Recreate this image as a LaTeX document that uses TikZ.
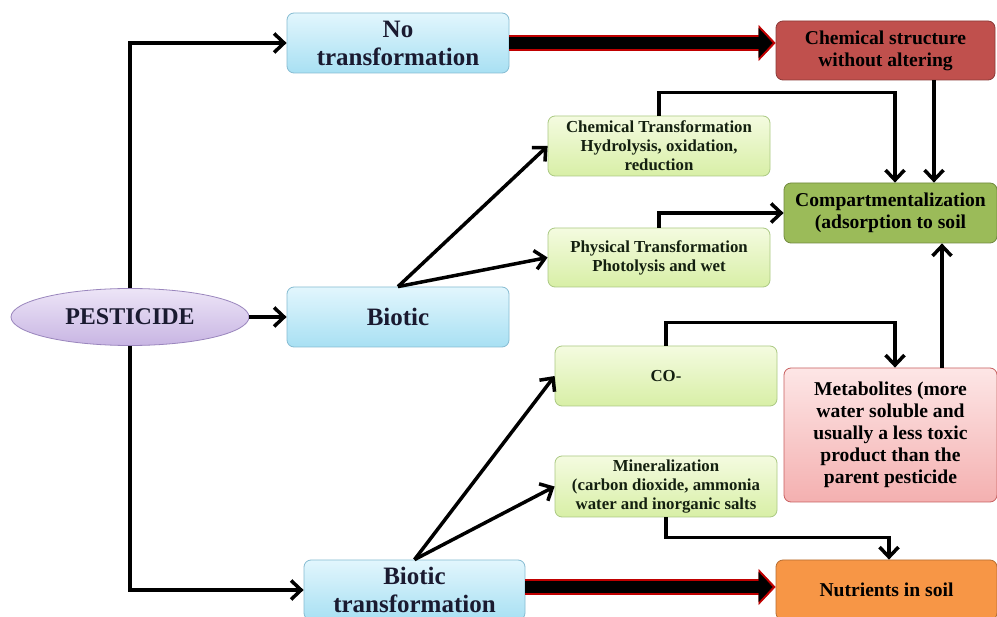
\documentclass[tikz,border=0pt]{standalone}
\usepackage{fontspec}
\setmainfont{Liberation Serif}
\usetikzlibrary{arrows.meta,shapes.geometric}
\definecolor{bluetop}{HTML}{E2F6FD}
\definecolor{bluebot}{HTML}{A8E0F3}
\definecolor{blueline}{HTML}{86BCD2}
\definecolor{greentop}{HTML}{F4FBE0}
\definecolor{greenbot}{HTML}{D8EFA6}
\definecolor{greenline}{HTML}{ABC983}
\definecolor{brickred}{HTML}{C0504D}
\definecolor{brickline}{HTML}{8C3A38}
\definecolor{soilgreen}{HTML}{9BBB59}
\definecolor{soilline}{HTML}{71893F}
\definecolor{pinktop}{HTML}{FDE6E6}
\definecolor{pinkbot}{HTML}{F4B0B0}
\definecolor{pinkline}{HTML}{C86060}
\definecolor{orangebox}{HTML}{F79646}
\definecolor{orangeline}{HTML}{B66D31}
\definecolor{lilactop}{HTML}{EDE5F7}
\definecolor{lilacbot}{HTML}{C8B5E3}
\definecolor{lilacline}{HTML}{9A86BD}
\definecolor{arrowred}{HTML}{C00000}
\definecolor{inkblue}{HTML}{1A1A30}
\definecolor{inkgreen}{HTML}{142010}

\begin{document}
\begin{tikzpicture}[x=1pt, y=-1pt,
  bluebox/.style={rectangle, rounded corners=7pt, draw=blueline, line width=0.8pt, top color=bluetop, bottom color=bluebot, minimum width=222pt, minimum height=60pt, align=center, text=inkblue, font=\bfseries\fontsize{25}{28}\selectfont},
  greenbox/.style={rectangle, rounded corners=7pt, draw=greenline, line width=0.8pt, top color=greentop, bottom color=greenbot, minimum width=222pt, minimum height=60pt, align=center, text=inkgreen, inner sep=1pt, font=\bfseries\fontsize{16.8}{19}\selectfont},
  colbox/.style={rectangle, rounded corners=7pt, line width=0.8pt, minimum width=215pt, minimum height=60pt, align=center, inner sep=1pt, font=\bfseries\fontsize{19.6}{22}\selectfont},
  arr/.style={line width=3.5pt, -{Straight Barb[length=10pt,width=19pt]}},
  bigarr/.style={line width=12pt, -{Triangle[length=14pt,width=30pt,line width=0.5pt]}, shorten >=3pt,
    preaction={draw=arrowred, line width=16pt, shorten >=0pt, -{Triangle[length=17pt,width=36pt,line width=0.5pt]}}}]
\clip (0,0) rectangle (997,617);
\fill[white] (0,0) rectangle (997,617);

\node[ellipse, draw=lilacline, line width=0.8pt, top color=lilactop, bottom color=lilacbot, minimum width=238pt, minimum height=57pt, text=inkblue, font=\bfseries\fontsize{24}{26}\selectfont] (pest) at (130,317) {PESTICIDE};
\node[bluebox] (notrans) at (398,43) {No\\transformation};
\node[bluebox] (biotic) at (398,317) {Biotic};
\node[bluebox, minimum width=221pt] (biotrans) at (414.5,590) {Biotic\\transformation};

\node[colbox, draw=brickline, fill=brickred, minimum width=219pt, minimum height=59pt] (chemstruct) at (885.5,50.5) {Chemical structure\\without altering};
\node[colbox, draw=soilline, fill=soilgreen, minimum width=213pt] (compart) at (890.5,213) {Compartmentalization\\(adsorption to soil};
\node[colbox, draw=pinkline, top color=pinktop, bottom color=pinkbot, minimum width=213pt, minimum height=134pt] (metab) at (890.5,435) {Metabolites (more\\water soluble and\\usually a less toxic\\product than the\\parent pesticide};
\node[colbox, draw=orangeline, fill=orangebox, minimum width=221pt] (nutr) at (886.5,590) {Nutrients in soil};

\node[greenbox] (chemtrans) at (659,146) {Chemical Transformation\\Hydrolysis, oxidation,\\reduction};
\node[greenbox, minimum height=59pt] (phystrans) at (659,257.5) {Physical Transformation\\Photolysis and wet};
\node[greenbox] (co) at (666,376) {CO-};
\node[greenbox, minimum height=61pt] (miner) at (666,486.5) {Mineralization\\(carbon dioxide, ammonia\\water and inorganic salts};

\draw[arr] (pest.north) |- (notrans.west);
\draw[arr] (pest.east) -- (biotic.west);
\draw[arr] (pest.south) |- (biotrans.west);

\draw[bigarr] (notrans.east) -- (notrans.east -| chemstruct.west);
\draw[bigarr] ([yshift=3]biotrans.east) -- ([yshift=3]biotrans.east -| nutr.west);

\draw[arr] (biotic.north) -- (chemtrans.west);
\draw[arr] (biotic.north) -- (phystrans.west);
\draw[arr] (biotrans.north) -- (co.west);
\draw[arr] (biotrans.north) -- (miner.west);

\draw[arr] (chemtrans.north) -- ++(0,-23) -| ([xshift=4.5]compart.north);
\draw[arr] ([xshift=48.5]chemstruct.south) -- ([xshift=48.5]chemstruct.south |- compart.north);
\draw[arr] (phystrans.north) |- (compart.west);
\draw[arr] ([xshift=51.5]metab.north) -- ([xshift=51.5]compart.south);
\draw[arr] (co.north) -- ++(0,-23) -| ([xshift=4.5]metab.north);
\draw[arr] (miner.south) -- ++(0,20) -| ([xshift=2.5]nutr.north);
\end{tikzpicture}
\end{document}
